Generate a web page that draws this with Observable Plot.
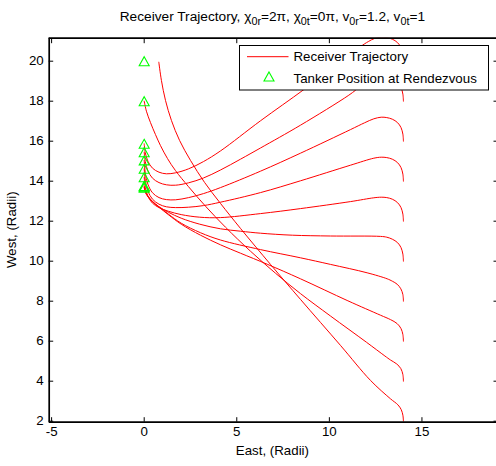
<!DOCTYPE html>
<html><head><meta charset="utf-8">
<script src="https://cdn.jsdelivr.net/npm/d3@7"></script>
<script src="https://cdn.jsdelivr.net/npm/@observablehq/plot@0.6"></script>
<style>
html,body{margin:0;padding:0;background:#fff;}
#chart{width:496px;height:466px;overflow:hidden;}
</style></head><body><div id="chart"></div>
<script>
const xTicks = [-5, 0, 5, 10, 15];
const yTicks = [2, 4, 6, 8, 10, 12, 14, 16, 18, 20];
const xDomain = [-5.13, 19.08];
const yDomain = [1.95, 21.15];

// Receiver trajectories (East, West), one per start position
const receiver2 = [[14,2],[13.97,2.3],[13.88,2.58],[13.7,2.82],[13.3,3.12],[12.22,4.04],[10.6,5.79],[8.44,8.09],[6.82,9.84],[5.2,11.64],[4.12,12.89],[3.26,13.94],[2.5,15.04],[1.91,16.04],[1.47,17.04],[1.15,18.04],[0.93,19.04],[0.79,19.95]];
const receiver4 = [[14,4],[13.97,4.33],[13.86,4.63],[13.64,4.86],[13.3,5.06],[13.0,5.26],[12.0,5.95],[10.06,7.26],[8.44,8.38],[7.09,9.4],[5.74,10.5],[4.39,11.7],[3.31,12.75],[2.39,13.73],[1.69,14.53],[1.26,15.13],[0.88,15.78],[0.61,16.33],[0.34,16.93],[0.12,17.5],[0,18]];
const receiver6 = [[14,6],[13.97,6.33],[13.87,6.63],[13.66,6.88],[13.3,7.08],[12.76,7.3],[11,8.02],[8.44,9.12],[6.64,9.85],[5.2,10.4],[4.12,10.82],[3.04,11.3],[2.0,11.85],[1.3,12.33],[0.8,12.7],[0.45,12.97],[0.2,13.25],[0.06,13.5],[0,13.76]];
const receiver8 = [[14,8],[13.97,8.33],[13.86,8.62],[13.66,8.85],[13.4,9.0],[13.12,9.12],[12.04,9.42],[10.06,9.84],[8.44,10.17],[6.28,10.58],[4.12,11.06],[3.05,11.42],[2.0,11.9],[1.3,12.36],[0.8,12.72],[0.45,12.99],[0.2,13.26],[0.06,13.48],[0,13.72]];
const receiver10 = [[14,10],[13.97,10.35],[13.87,10.68],[13.68,10.93],[13.4,11.1],[13.1,11.2],[12.76,11.24],[10.06,11.26],[8,11.3],[6.28,11.4],[5.2,11.5],[4.12,11.62],[3.0,11.85],[2.0,12.15],[1.3,12.45],[0.8,12.72],[0.45,12.97],[0.2,13.22],[0.06,13.45],[0,13.68]];
const receiver12 = [[14,12],[13.97,12.35],[13.87,12.68],[13.68,12.93],[13.4,13.1],[13.1,13.18],[12.8,13.2],[12.4,13.17],[11.14,12.98],[8.44,12.63],[6.28,12.38],[4.12,12.18],[3.0,12.2],[2.0,12.33],[1.3,12.5],[0.8,12.68],[0.45,12.9],[0.2,13.25],[0.06,13.7],[0,14.2]];
const receiver14 = [[14,14],[13.97,14.35],[13.87,14.68],[13.68,14.93],[13.4,15.1],[13.1,15.18],[12.8,15.2],[12.4,15.15],[11.14,14.8],[8.44,14.02],[6.28,13.43],[4.12,12.95],[3.2,12.78],[2.4,12.7],[1.7,12.68],[1.2,12.72],[0.8,12.85],[0.45,13.1],[0.2,13.5],[0.06,14.05],[0,14.62]];
const receiver16 = [[14,16],[13.97,16.35],[13.87,16.68],[13.68,16.93],[13.4,17.1],[13.1,17.18],[12.8,17.2],[12.4,17.12],[11.9,16.92],[11.14,16.58],[8.44,15.4],[6.28,14.5],[4.12,13.68],[3.2,13.38],[2.4,13.18],[1.7,13.07],[1.2,13.08],[0.8,13.18],[0.45,13.42],[0.2,13.85],[0.06,14.42],[0,15.04]];
const receiver18 = [[14,18],[13.97,18.35],[13.87,18.68],[13.68,18.93],[13.4,19.1],[13.1,19.18],[12.8,19.2],[12.45,19.15],[12.1,19.0],[11.7,18.75],[11.05,18.3],[8.44,16.8],[6.28,15.66],[5.2,15.1],[4.12,14.56],[3.2,14.16],[2.4,13.92],[1.7,13.8],[1.2,13.82],[0.8,13.93],[0.45,14.15],[0.2,14.52],[0.06,14.98],[0,15.45]];
const receiver20 = [[14,20],[13.97,20.35],[13.87,20.68],[13.68,20.93],[13.4,21.1],[13.1,21.18],[12.8,21.2],[12.45,21.14],[12.1,20.98],[11.7,20.74],[10.5,19.9],[8.62,18.58],[6.28,17.02],[4.13,15.52],[3.2,14.98],[2.4,14.62],[1.7,14.42],[1.2,14.37],[0.8,14.45],[0.45,14.65],[0.2,15.0],[0.06,15.42],[0,15.87]];

// Tanker positions at rendezvous
const tankerX = [0, 0, 0, 0, 0, 0, 0, 0, 0, 0];
const tankerY = [20, 18, 15.87, 15.45, 15.04, 14.62, 14.2, 13.76, 13.72, 13.68];

const receivers = [receiver2, receiver4, receiver6, receiver8, receiver10, receiver12, receiver14, receiver16, receiver18, receiver20];
const rows = receivers.flatMap((pts, i) => pts.map(([x, y]) => ({x, y, run: i})));
const tanker = tankerX.map((x, i) => ({x, y: tankerY[i]}));

const triangle = {
  draw(ctx) { ctx.moveTo(0, -4.5); ctx.lineTo(5, 4.5); ctx.lineTo(-5, 4.5); ctx.closePath(); }
};
const fmt = d => String(d);
const FONT = "'Liberation Sans', Arial, Helvetica, sans-serif";

const svgEl = Plot.plot({
  width: 496, height: 466,
  marginLeft: 48.7, marginRight: -1, marginTop: 37.7, marginBottom: 44.3,
  x: {domain: xDomain},
  y: {domain: yDomain},
  style: {fontFamily: FONT, fontSize: "13.3px", background: "white", color: "black", overflow: "hidden"},
  marks: [
    Plot.line(rows, {x: "x", y: "y", z: "run", stroke: "#ff0000", strokeWidth: 1, curve: "catmull-rom", clip: true}),
    Plot.dot(tanker, {x: "x", y: "y", symbol: triangle, r: 5, stroke: "#00ff00", fill: "none", strokeWidth: 1.1}),
    Plot.ruleY([yDomain[0], yDomain[1]], {stroke: "black", strokeWidth: 1.7}),
    Plot.ruleX([xDomain[0]], {stroke: "black", strokeWidth: 1.7}),
    Plot.axisX(xTicks, {anchor: "bottom", tickSize: -4.5, tickFormat: () => "", label: null}),
    Plot.axisX(xTicks, {anchor: "top", tickSize: -4.5, tickFormat: () => "", label: null}),
    Plot.axisY(yTicks, {anchor: "left", tickSize: -4.5, tickFormat: () => "", label: null}),
    Plot.axisY(yTicks, {anchor: "right", tickSize: -4.5, tickFormat: () => "", label: null}),
    Plot.axisX(xTicks, {anchor: "bottom", tickSize: 0, tickPadding: 4.5, tickFormat: fmt, label: null, fontSize: 13.3}),
    Plot.axisY(yTicks, {anchor: "left", tickSize: 0, tickPadding: 5.5, tickFormat: fmt, label: null, fontSize: 13.3})
  ]
});
document.getElementById("chart").appendChild(svgEl);

const svg = d3.select(svgEl);
// Legend
const lg = svg.append("g").attr("font-family", FONT).attr("font-size", 13.3).attr("text-anchor", "start");
lg.append("rect").attr("x", 239.5).attr("y", 45.5).attr("width", 249).attr("height", 44.5)
  .attr("fill", "white").attr("stroke", "black").attr("stroke-width", 1);
lg.append("line").attr("x1", 247).attr("x2", 288.5).attr("y1", 56.7).attr("y2", 56.7)
  .attr("stroke", "#ff0000").attr("stroke-width", 1);
lg.append("text").attr("x", 293.5).attr("y", 61.4).attr("text-anchor", "start").text("Receiver Trajectory");
lg.append("path").attr("d", "M0,-4.5L5,4.5L-5,4.5Z").attr("transform", "translate(269,76.5)")
  .attr("fill", "none").attr("stroke", "#00ff00").attr("stroke-width", 1.1);
lg.append("text").attr("x", 293.5).attr("y", 82.6).attr("text-anchor", "start").text("Tanker Position at Rendezvous");

// Title with subscripts
const title = svg.append("text").attr("x", 272.4).attr("y", 20.5).attr("text-anchor", "middle")
  .attr("font-family", FONT).attr("font-size", 13.7);
const parts = [["Receiver Trajectory, χ", false], ["0r", true], ["=2π, χ", false], ["0t", true],
  ["=0π, v", false], ["0r", true], ["=1.2, v", false], ["0t", true], ["=1", false]];
let lowered = false;
for (const [s, sub] of parts) {
  const t = title.append("tspan").text(s);
  if (sub && !lowered) { t.attr("dy", 4.5).attr("font-size", 10.8); lowered = true; }
  else if (sub) { t.attr("font-size", 10.8); }
  else if (lowered) { t.attr("dy", -4.5); lowered = false; }
}
// Axis titles
svg.append("text").attr("x", 272.4).attr("y", 455).attr("text-anchor", "middle")
  .attr("font-family", FONT).attr("font-size", 13.3).text("East, (Radii)");
svg.append("text").attr("transform", "translate(16,229.7) rotate(-90)").attr("text-anchor", "middle")
  .attr("font-family", FONT).attr("font-size", 13.3).text("West, (Radii)");
</script></body></html>
